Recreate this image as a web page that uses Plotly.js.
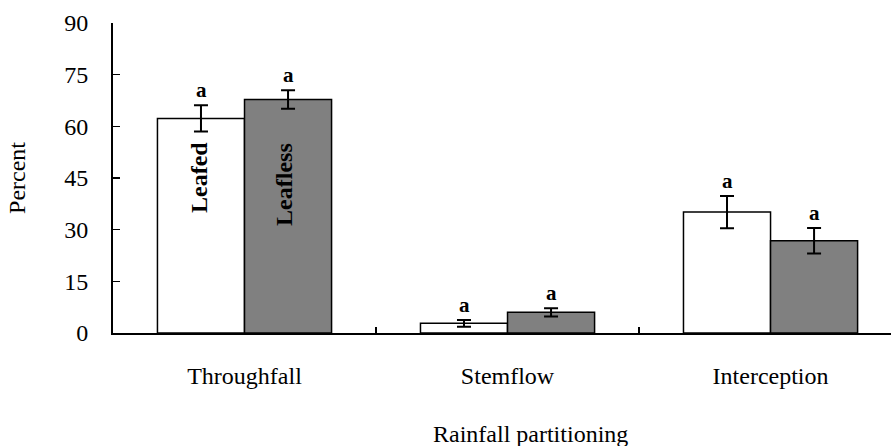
<!DOCTYPE html>
<html>
<head>
<meta charset="utf-8">
<script src="https://cdn.plot.ly/plotly-3.0.1.min.js"></script>
<style>html,body{margin:0;padding:0;background:#fff;}#chart{width:891px;height:446px;}</style>
</head>
<body>
<div id="chart"></div>
<script>
var categories = ['Throughfall', 'Stemflow', 'Interception'];
var leafed = [62.3, 2.8, 35.1];
var leafedErr = [3.8, 1.0, 4.7];
var leafless = [67.8, 6.0, 26.8];
var leaflessErr = [2.7, 1.2, 3.7];
var sigLeafed = ['a', 'a', 'a'];
var sigLeafless = ['a', 'a', 'a'];
var seriesNames = ['Leafed', 'Leafless'];
var yTicks = [0, 15, 30, 45, 60, 75, 90];

var serif = 'Liberation Serif, Times New Roman, serif';

var errStyle = function (arr) {
  return {type: 'data', array: arr, visible: true, color: '#000', thickness: 2, width: 7};
};

var traces = [
  {type: 'bar', name: seriesNames[0], x: categories, y: leafed,
   marker: {color: '#ffffff', line: {color: '#000', width: 1.5}},
   error_y: errStyle(leafedErr)},
  {type: 'bar', name: seriesNames[1], x: categories, y: leafless,
   marker: {color: '#808080', line: {color: '#000', width: 1.5}},
   error_y: errStyle(leaflessErr)}
];

var annotations = [];
var off = 43.5;
for (var i = 0; i < categories.length; i++) {
  annotations.push({x: categories[i], y: leafed[i] + leafedErr[i], xref: 'x', yref: 'y',
    text: sigLeafed[i], showarrow: false, xshift: -off, yshift: 1, yanchor: 'bottom',
    font: {family: serif, size: 21, color: '#000', weight: 'bold'}});
  annotations.push({x: categories[i], y: leafless[i] + leaflessErr[i], xref: 'x', yref: 'y',
    text: sigLeafless[i], showarrow: false, xshift: off, yshift: 1, yanchor: 'bottom',
    font: {family: serif, size: 21, color: '#000', weight: 'bold'}});
}
annotations.push({x: categories[0], y: 45, xref: 'x', yref: 'y', text: seriesNames[0],
  showarrow: false, textangle: -90, xshift: -off - 2,
  font: {family: serif, size: 24, color: '#000', weight: 'bold'}});
annotations.push({x: categories[0], y: 43, xref: 'x', yref: 'y', text: seriesNames[1],
  showarrow: false, textangle: -90, xshift: off - 4,
  font: {family: serif, size: 24, color: '#000', weight: 'bold'}});

var L = 113, R = 0, T = 23, B = 113, W = 891, H = 446;
var pw = W - L - R, ph = H - T - B;
annotations.push({x: (530 - L) / pw, y: (H - 434 - B) / ph, xref: 'paper', yref: 'paper',
  xanchor: 'center', yanchor: 'middle', text: 'Rainfall partitioning',
  showarrow: false, font: {family: serif, size: 24, color: '#000'}});

var layout = {
  width: W, height: H,
  margin: {l: L, r: R, t: T, b: B},
  paper_bgcolor: '#fff', plot_bgcolor: '#fff',
  showlegend: false,
  barmode: 'group', bargap: 0.338, bargroupgap: 0,
  font: {family: serif, size: 24, color: '#000'},
  xaxis: {
    type: 'category', range: [-0.5, 2.458],
    showline: true, linecolor: '#000', linewidth: 2,
    ticks: 'inside', tickson: 'boundaries', ticklen: 6, tickwidth: 1.5, tickcolor: '#000',
    showgrid: false, zeroline: false,
    ticklabelstandoff: 20,
    tickfont: {family: serif, size: 24, color: '#000'}
  },
  yaxis: {
    range: [0, 90], tickvals: yTicks, ticktext: yTicks.map(String),
    showline: true, linecolor: '#000', linewidth: 2,
    ticks: 'inside', ticklen: 7, tickwidth: 1.5, tickcolor: '#000',
    showgrid: false, zeroline: false,
    ticklabelstandoff: 18,
    tickfont: {family: serif, size: 24, color: '#000'},
    title: {text: 'Percent', standoff: 32, font: {family: serif, size: 24, color: '#000'}}
  },
  annotations: annotations
};

Plotly.newPlot('chart', traces, layout, {displayModeBar: false, staticPlot: true});
</script>
</body>
</html>
